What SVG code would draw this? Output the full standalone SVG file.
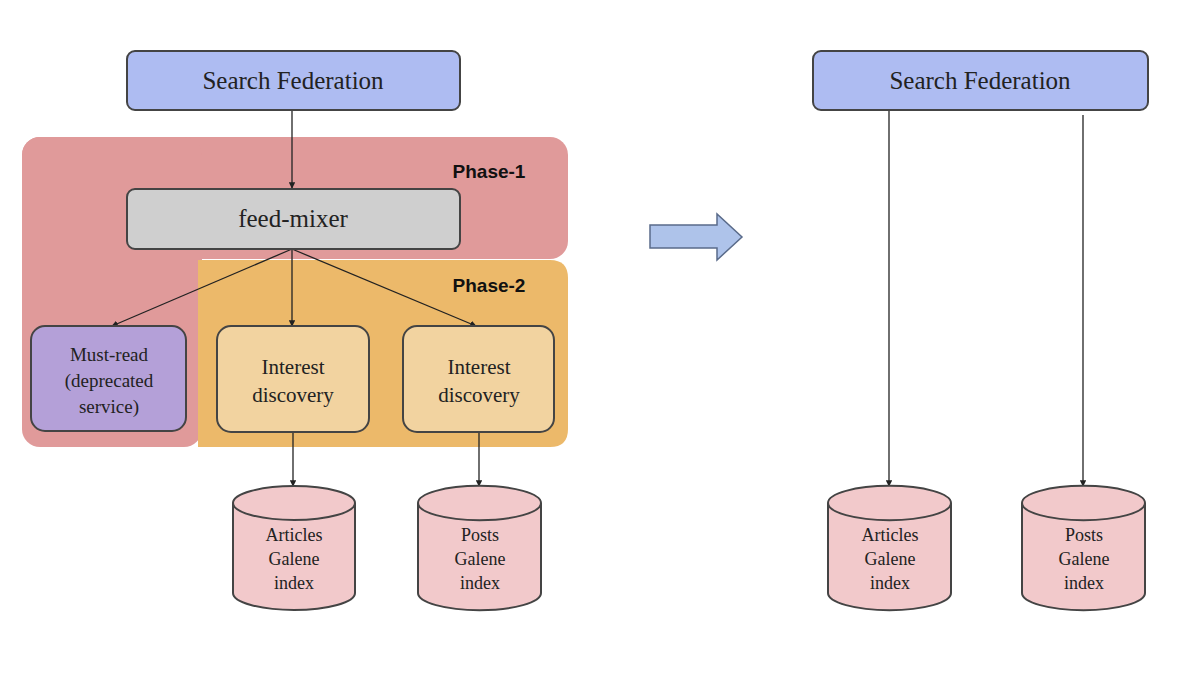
<svg xmlns="http://www.w3.org/2000/svg" width="1200" height="675" viewBox="0 0 1200 675">
<defs>
<marker id="ah" viewBox="0 0 10 10" refX="9" refY="5" markerWidth="5" markerHeight="5" orient="auto"><path d="M0,0 L10,5 L0,10 z" fill="#222"/></marker>
<style>
.n{stroke:#444;stroke-width:2}
.t{font-family:"Liberation Serif",serif;fill:#222;text-anchor:middle}
.c{stroke:#222;stroke-width:1.3;fill:none;marker-end:url(#ah)}
.ph{font-family:"Liberation Sans",Arial,sans-serif;font-weight:bold;font-size:19px;fill:#111}
.cy{fill:#f2c9cb;stroke:#444;stroke-width:2}
</style>
</defs>
<rect width="1200" height="675" fill="#fff"/>
<g id="phase1"><rect x="22" y="137" width="546" height="122" rx="18" fill="#e09a9a"/><rect x="22" y="137" width="180" height="310" rx="18" fill="#e09a9a"/><text class="ph" x="489" y="178" text-anchor="middle">Phase-1</text></g>
<g id="phase2"><path d="M198,260 H550 Q568,260 568,278 V429 Q568,447 550,447 H198 Z" fill="#ecb96a"/><text class="ph" x="489" y="292" text-anchor="middle">Phase-2</text></g>
<g id="connectors">
<line class="c" x1="292" y1="110" x2="292" y2="188"/>
<line class="c" x1="292" y1="249" x2="112" y2="326"/>
<line class="c" x1="292" y1="249" x2="292" y2="326"/>
<line class="c" x1="292" y1="249" x2="476" y2="326"/>
<line class="c" x1="293" y1="432" x2="293" y2="486"/>
<line class="c" x1="479" y1="432" x2="479" y2="486"/>
<line class="c" x1="889" y1="110" x2="889" y2="486"/>
<line class="c" x1="1083" y1="115" x2="1083" y2="486"/>
</g>
<g id="sf1"><rect class="n" x="127" y="51" width="333" height="59" rx="8" fill="#aebcf2"/><text class="t" x="293" y="89" font-size="25">Search Federation</text></g>
<g id="sf2"><rect class="n" x="813" y="51" width="335" height="59" rx="8" fill="#aebcf2"/><text class="t" x="980" y="89" font-size="25">Search Federation</text></g>
<g id="fm"><rect class="n" x="127" y="189" width="333" height="60" rx="8" fill="#cfcfcf"/><text class="t" x="293" y="227" font-size="25">feed-mixer</text></g>
<g id="mr"><rect class="n" x="31" y="326" width="155" height="105" rx="14" fill="#b4a0d8"/><text class="t" font-size="19"><tspan x="109" y="361">Must-read</tspan><tspan x="109" y="387">(deprecated</tspan><tspan x="109" y="413">service)</tspan></text></g>
<g id="id1"><rect class="n" x="217" y="326" width="152" height="106" rx="14" fill="#f2d3a0"/><text class="t" font-size="21"><tspan x="293" y="374">Interest</tspan><tspan x="293" y="402">discovery</tspan></text></g>
<g id="id2"><rect class="n" x="403" y="326" width="151" height="106" rx="14" fill="#f2d3a0"/><text class="t" font-size="21"><tspan x="479" y="374">Interest</tspan><tspan x="479" y="402">discovery</tspan></text></g>
<g id="db1"><path class="cy" d="M233,503 V593 A61,17 0 0 0 355,593 V503 A61,17 0 0 0 233,503 A61,17 0 0 0 355,503"/><text class="t" font-size="18"><tspan x="294" y="541">Articles</tspan><tspan x="294" y="565">Galene</tspan><tspan x="294" y="589">index</tspan></text></g>
<g id="db2"><path class="cy" d="M418,503 V593 A61,17 0 0 0 541,593 V503 A61,17 0 0 0 418,503 A61,17 0 0 0 541,503"/><text class="t" font-size="18"><tspan x="480" y="541">Posts</tspan><tspan x="480" y="565">Galene</tspan><tspan x="480" y="589">index</tspan></text></g>
<g id="db3"><path class="cy" d="M828,503 V593 A61,17 0 0 0 951,593 V503 A61,17 0 0 0 828,503 A61,17 0 0 0 951,503"/><text class="t" font-size="18"><tspan x="890" y="541">Articles</tspan><tspan x="890" y="565">Galene</tspan><tspan x="890" y="589">index</tspan></text></g>
<g id="db4"><path class="cy" d="M1022,503 V593 A61,17 0 0 0 1145,593 V503 A61,17 0 0 0 1022,503 A61,17 0 0 0 1145,503"/><text class="t" font-size="18"><tspan x="1084" y="541">Posts</tspan><tspan x="1084" y="565">Galene</tspan><tspan x="1084" y="589">index</tspan></text></g>
<g id="bigarrow"><path d="M650,225 H717 V214 L742,237 L717,260 V248 H650 Z" fill="#aec3ea" stroke="#5a6b8a" stroke-width="1.5"/></g>
</svg>
